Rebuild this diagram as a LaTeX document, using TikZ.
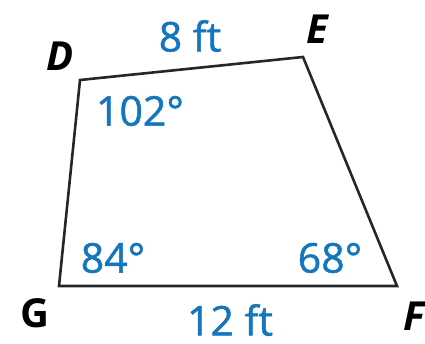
\documentclass[tikz,border=0pt]{standalone}
\usepackage{fontspec}
\setmainfont{Open Sans}
\newfontfamily\measfont[RawFeature={embolden=1.2}]{Open Sans}
\usetikzlibrary{positioning, calc}
\definecolor{mblue}{RGB}{20,118,188}
\begin{document}
\begin{tikzpicture}[x=1pt, y=-1pt,
	every node/.style={font=\fontsize{40}{44}\selectfont, inner sep=0pt},
	vlabel/.style={font=\fontsize{40}{44}\selectfont\bfseries\itshape},
	meas/.style={text=mblue, font=\fontsize{41}{44}\measfont}]
		\useasboundingbox (0,0) rectangle (425,344);
		\coordinate (D) at (80,80);
		\coordinate (E) at (303,57);
		\coordinate (F) at (397,286);
		\coordinate (G) at (59,286);
		\draw[line width=2.6pt, line join=miter, color=black!85] (D) -- (E) -- (F) -- (G) -- cycle;
		\node[vlabel] (d) at (60,56) {D};
		\node[vlabel] (e) at (317,29) {E};
		\node[vlabel] (f) at (414,316) {F};
		\node[vlabel, font=\fontsize{40}{44}\selectfont\bfseries] (g) at (35,313) {G};
		\node[meas] (top) at (190,36) {8 ft};
		\node[meas] (bot) at (230,320) {12 ft};
		\node[meas] (ad) at (140,111) {102°};
		\node[meas] (ag) at (113,258) {84°};
		\node[meas] (af) at (330,258) {68°};
	\end{tikzpicture}
\end{document}
